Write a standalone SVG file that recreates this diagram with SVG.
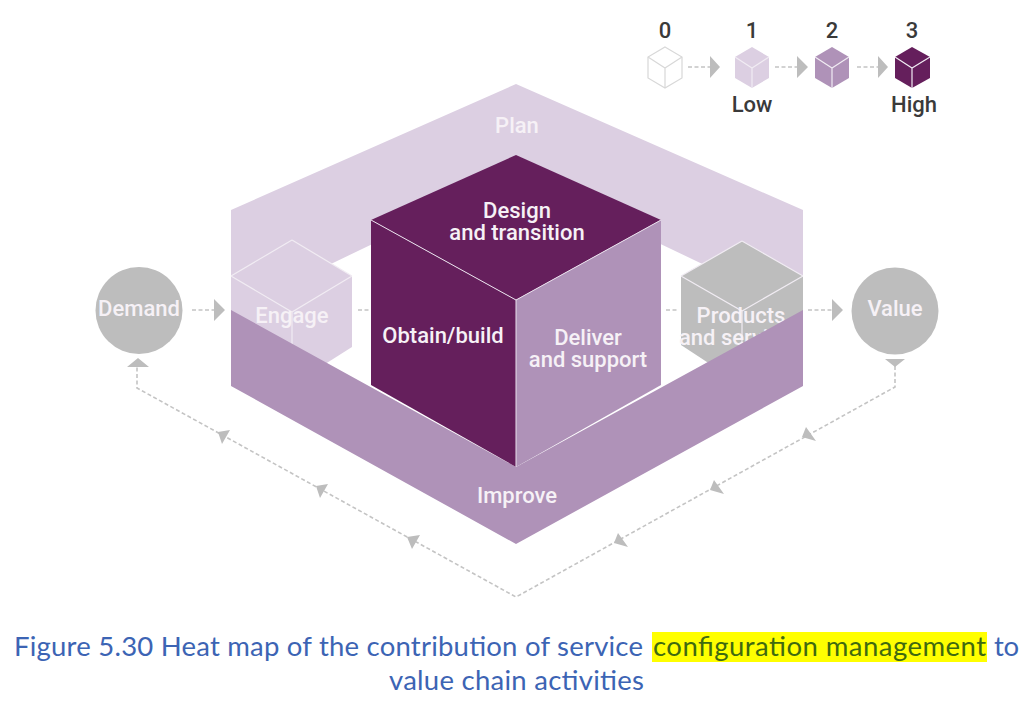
<svg xmlns="http://www.w3.org/2000/svg" width="1029" height="703" viewBox="0 0 1029 703">
<style>
.l{font-family:"Roboto","Liberation Sans",sans-serif;font-size:22px;font-weight:500;text-anchor:middle;fill:#f6f1f6}
.k{font-family:"Roboto","Liberation Sans",sans-serif;font-size:22px;font-weight:500;text-anchor:middle;fill:#3a3a3a}
.c{font-family:"Lato","Liberation Sans",sans-serif;font-size:27.5px;fill:#3c64b4}
.d{fill:none;stroke:#c4c4c4;stroke-width:1.6;stroke-dasharray:4 2.5}
.h{fill:#bdbdbd}
.e{fill:none;stroke:#f1ecf3;stroke-width:1.2}
</style>
<rect width="1029" height="703" fill="#fff"/>
<g id="connectors">
<path class="d" d="M192 310H215M808 310H832M358 310H370M666 310H677"/>
<path class="h" d="M214 299L225 310L214 321ZM832 299L843 310L832 321Z"/>
<path class="d" d="M895 366V387L516 597L137 388V366"/>
<path class="h" d="M127 367L138 358L149 367ZM885 359H905L895 367Z"/>
<path class="h" d="M806 427L816 441L802 437ZM714 480L724 494L710 490ZM618 533L628 547L614 543Z"/>
<path class="h" d="M218 432L230 430L222 444ZM316 486L328 484L320 498ZM407 537L420 535L412 549Z"/>
<path class="d" d="M688 67H710M775 67H797M857 67H878"/>
<path class="h" d="M710 56L720 67L710 78ZM797 56L808 67L797 78ZM878 56L888 67L878 78Z"/>
</g>
<g id="demand"><circle cx="139" cy="310.5" r="43.5" fill="#bdbdbd"/><text class="l" x="139" y="316">Demand</text></g>
<g id="value"><circle cx="895" cy="311" r="43.5" fill="#bdbdbd"/><text class="l" x="895" y="316">Value</text></g>
<g id="plan"><path fill="#dccfe2" d="M231 210L516 84L803 210V312L516 175L231 312Z"/><text class="l" x="517" y="133">Plan</text></g>
<g id="engage">
<path fill="#dccfe2" d="M292 240L352 276V347L292 385L231 350V276Z"/>
<path class="e" d="M231 276L292 312L352 276M292 240L352 276M292 240L231 276M292 312V385"/>
<text class="l" x="292" y="323">Engage</text>
</g>
<g id="products">
<path fill="#bdbdbd" d="M742 241L803 276V350L742 385L681 345V276Z"/>
<path class="e" d="M681 276L742 311L803 276M742 241L803 276M742 241L681 276M742 311V385"/>
<text class="l" x="741" y="323">Products</text>
<text class="l" x="741" y="345">and services</text>
</g>
<g id="improve"><path fill="#af92b8" d="M231 310L516 467L803 310V386L516 544L231 386Z"/><text class="l" x="517" y="503">Improve</text></g>
<g id="cube">
<path fill="#651f5c" d="M516 155L661 220L516 300L371 220Z"/>
<path fill="#651f5c" d="M371 220L516 300V467L371 385Z"/>
<path fill="#af92b8" d="M661 220V385L516 467V300Z"/>
<path d="M371 220L516 300L661 220M516 300V467" fill="none" stroke="#e9e0ec" stroke-width="1"/>
<text class="l" x="517" y="218">Design</text>
<text class="l" x="517" y="240">and transition</text>
<text class="l" x="443" y="343">Obtain/build</text>
<text class="l" x="588" y="345">Deliver</text>
<text class="l" x="588" y="367">and support</text>
</g>
<g id="legend">
<text class="k" x="665" y="38">0</text><text class="k" x="752" y="38">1</text><text class="k" x="832" y="38">2</text><text class="k" x="912" y="38">3</text>
<text class="k" x="752" y="112">Low</text><text class="k" x="914" y="112">High</text>
<g id="level0"><path d="M665 47L682 57V78L665 88L648 78V57Z" fill="#fff" stroke="#d8d8d8" stroke-width="1.2"/><path d="M648 57L665 68L682 57M665 68V88" fill="none" stroke="#d8d8d8" stroke-width="1.2"/></g>
<g id="level1"><path d="M752 47L769 57V78L752 88L735 78V57Z" fill="#dccfe2"/><path d="M735 57L752 68L769 57M752 68V88" class="e"/></g>
<g id="level2"><path d="M832 47L849 57V78L832 88L815 78V57Z" fill="#af92b8"/><path d="M815 57L832 68L849 57M832 68V88" class="e"/></g>
<g id="level3"><path d="M912 47L930 57V78L912 88L895 78V57Z" fill="#651f5c"/><path d="M895 57L912 68L930 57M912 68V88" class="e"/></g>
</g>
<g id="caption">
<rect x="652" y="632" width="335" height="30" fill="#ffff00"/>
<text class="c" x="14" y="656" textLength="629" lengthAdjust="spacing">Figure 5.30 Heat map of the contribution of service</text>
<text class="c" x="653" y="656" textLength="333" lengthAdjust="spacing" style="fill:#3f6a10">configuration management</text>
<text class="c" x="994" y="656" textLength="25" lengthAdjust="spacing">to</text>
<text class="c" x="389" y="690" textLength="255" lengthAdjust="spacing">value chain activities</text>
</g>
</svg>
